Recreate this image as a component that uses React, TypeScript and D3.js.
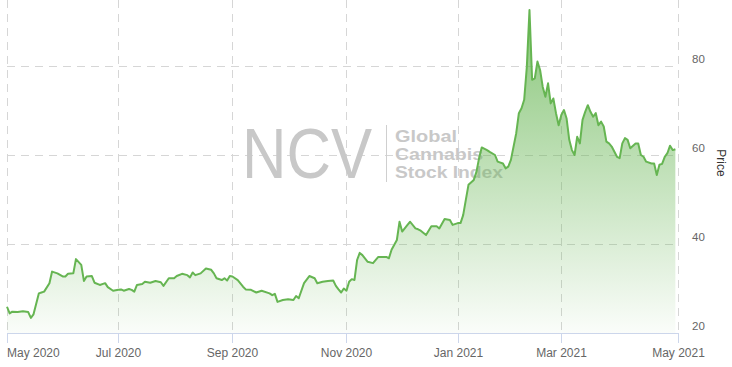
import React from "react";
import * as d3 from "d3";

// Daily closing prices (trading days only)
const dates = [
  "2020-05-01","2020-05-04","2020-05-05","2020-05-07","2020-05-11","2020-05-13","2020-05-14","2020-05-15","2020-05-19","2020-05-20",
  "2020-05-21","2020-05-26","2020-05-27","2020-05-29","2020-06-02","2020-06-03","2020-06-04","2020-06-08","2020-06-09","2020-06-11",
  "2020-06-12","2020-06-15","2020-06-17","2020-06-18","2020-06-22","2020-06-24","2020-06-25","2020-06-29","2020-07-01","2020-07-02",
  "2020-07-06","2020-07-08","2020-07-09","2020-07-10","2020-07-13","2020-07-15","2020-07-16","2020-07-20","2020-07-22","2020-07-24",
  "2020-07-27","2020-07-29","2020-07-31","2020-08-03","2020-08-05","2020-08-07","2020-08-10","2020-08-11","2020-08-12","2020-08-14",
  "2020-08-18","2020-08-20","2020-08-21","2020-08-24","2020-08-26","2020-08-27","2020-08-28","2020-08-31","2020-09-01","2020-09-03",
  "2020-09-08","2020-09-09","2020-09-11","2020-09-15","2020-09-17","2020-09-22","2020-09-23","2020-09-24","2020-09-25","2020-09-29",
  "2020-10-01","2020-10-05","2020-10-06","2020-10-07","2020-10-09","2020-10-13","2020-10-15","2020-10-16","2020-10-20","2020-10-22",
  "2020-10-26","2020-10-27","2020-10-28","2020-10-29","2020-10-30","2020-11-02","2020-11-03","2020-11-04","2020-11-05","2020-11-06",
  "2020-11-09","2020-11-10","2020-11-12","2020-11-16","2020-11-18","2020-11-23","2020-11-24","2020-11-25","2020-11-30","2020-12-01",
  "2020-12-02","2020-12-04","2020-12-07","2020-12-09","2020-12-10","2020-12-11","2020-12-15","2020-12-17","2020-12-21","2020-12-22",
  "2020-12-24","2020-12-29","2020-12-30","2021-01-04","2021-01-05","2021-01-06","2021-01-07","2021-01-08","2021-01-12","2021-01-13",
  "2021-01-14","2021-01-15","2021-01-19","2021-01-20","2021-01-22","2021-01-25","2021-01-27","2021-01-28","2021-01-29","2021-02-01",
  "2021-02-03","2021-02-04","2021-02-05","2021-02-08","2021-02-09","2021-02-10","2021-02-11","2021-02-12","2021-02-16","2021-02-17",
  "2021-02-18","2021-02-19","2021-02-22","2021-02-23","2021-02-24","2021-02-25","2021-02-26","2021-03-01","2021-03-02","2021-03-03",
  "2021-03-04","2021-03-05","2021-03-08","2021-03-09","2021-03-10","2021-03-11","2021-03-12","2021-03-15","2021-03-16","2021-03-17",
  "2021-03-18","2021-03-19","2021-03-22","2021-03-23","2021-03-24","2021-03-25","2021-03-26","2021-03-30","2021-03-31","2021-04-01",
  "2021-04-05","2021-04-06","2021-04-07","2021-04-09","2021-04-12","2021-04-13","2021-04-14","2021-04-15","2021-04-19","2021-04-20",
  "2021-04-21","2021-04-22","2021-04-23","2021-04-26","2021-04-27","2021-04-28","2021-04-29","2021-04-30",
];

const prices = [
  25.9,24.4,24.8,24.7,24.9,24.7,23.4,24.2,28.9,29.1,
  29.3,31.2,33.8,33.4,32.7,32.7,33.3,33.4,36.6,35.3,
  31.7,32.7,32.8,31.3,30.8,31.2,30.3,29.5,29.7,29.8,
  29.5,29.9,29.7,29.3,30.8,31.0,31.5,31.3,31.7,31.4,
  30.6,32.3,32.3,32.8,33.3,33.0,32.5,33.6,33.0,33.4,
  34.5,34.2,33.4,32.3,31.9,32.3,31.8,32.8,32.7,31.9,
  30.4,29.8,29.7,29.1,29.5,28.9,28.5,28.8,27.0,27.4,
  27.6,27.4,28.3,27.8,31.2,32.8,32.3,31.2,31.5,31.7,
  31.8,30.6,29.8,29.1,30.0,29.5,31.5,32.1,31.9,36.4,
  38.0,37.5,36.0,35.7,37.1,37.1,36.8,38.7,40.9,45.0,
  42.8,44.3,45.0,43.5,43.3,43.0,42.0,44.0,44.0,43.5,
  45.6,45.4,44.3,44.7,44.7,46.5,49.9,53.3,54.4,56.2,
  59.3,61.7,61.1,60.7,60.0,58.5,58.1,57.0,57.4,58.9,
  64.9,69.4,70.5,72.4,79.8,92.6,76.9,77.2,81.0,79.1,
  75.3,73.1,76.1,71.6,72.7,69.4,66.7,69.0,70.1,68.2,
  63.4,61.1,60.0,64.1,62.6,67.9,69.7,71.2,69.7,68.6,
  69.4,66.7,67.5,66.4,63.0,62.6,61.9,59.6,59.3,62.6,
  63.8,63.4,61.5,62.6,62.6,60.0,59.6,58.5,58.1,58.1,
  55.5,57.8,58.0,59.6,60.4,62.1,61.1,61.3,
];

// Market holidays (no trading) — the x axis is ordinal over trading days
const holidays = ["2020-05-25", "2020-07-03", "2020-09-07", "2020-11-26", "2020-12-25", "2021-01-01", "2021-02-15", "2021-04-02"];
const calendarStart = "2020-05-01";
const calendarEnd = "2021-05-03";

const xTickDates = ["2020-05-01", "2020-07-01", "2020-09-01", "2020-11-01", "2021-01-01", "2021-03-01", "2021-05-01"];
const xTickLabels = ["May 2020", "Jul 2020", "Sep 2020", "Nov 2020", "Jan 2021", "Mar 2021", "May 2021"];
const yTicks = [20, 40, 60, 80];
const yAxisTitle = "Price";
const watermarkBig = "NCV";
const watermarkLines = ["Global", "Cannabis", "Stock Index"];
const watermarkLineWidths = [62, 88, 108];

const W = 732;
const H = 367;
const plotLeft = 7;
const plotRight = 678;
const plotTop = 0;
const plotBottom = 333;

export default function App() {
  const parse = d3.utcParse("%Y-%m-%d");
  const fmt = d3.utcFormat("%Y-%m-%d");
  const holidaySet = new Set(holidays);

  // trading-day calendar (weekdays that are not holidays)
  const tradingDays: Date[] = d3
    .utcDays(parse(calendarStart) as Date, d3.utcDay.offset(parse(calendarEnd) as Date, 1))
    .filter((d) => d.getUTCDay() !== 0 && d.getUTCDay() !== 6 && !holidaySet.has(fmt(d)));
  const dayNums = tradingDays.map((t) => +t);
  const indexOf = (d: Date) => d3.bisectLeft(dayNums, +d);

  const data = dates.map((d, i) => ({ idx: indexOf(parse(d) as Date), value: prices[i] }));

  const x = d3
    .scaleLinear()
    .domain([0, tradingDays.length - 1])
    .range([plotLeft, plotRight]);
  const y = d3.scaleLinear().domain([20, 80]).range([plotBottom, 66]);

  const line = d3
    .line<{ idx: number; value: number }>()
    .x((d) => x(d.idx))
    .y((d) => y(d.value));
  const area = d3
    .area<{ idx: number; value: number }>()
    .x((d) => x(d.idx))
    .y0(plotBottom)
    .y1((d) => y(d.value));

  const font = "'Liberation Sans', Arial, Helvetica, sans-serif";
  const green = "#66b552";
  const tickX = (d: string) => Math.round(x(Math.min(indexOf(parse(d) as Date), tradingDays.length - 1))) + 0.5;

  return (
    <svg
      width={W}
      height={H}
      style={{ position: "absolute", left: 0, top: 0, background: "#fff" }}
      fontFamily={font}
    >
      <defs>
        <linearGradient id="areaGrad" gradientUnits="userSpaceOnUse" x1="0" y1={plotTop} x2="0" y2={plotBottom}>
          <stop offset="0" stopColor={green} stopOpacity={0.8} />
          <stop offset="1" stopColor={green} stopOpacity={0.03} />
        </linearGradient>
      </defs>
      <rect x={0} y={0} width={W} height={H} fill="#fff" />

      {/* horizontal grid */}
      {yTicks
        .filter((t) => t !== 20)
        .map((t) => (
          <line
            key={"hg" + t}
            x1={plotLeft}
            x2={plotRight}
            y1={y(t) + 0.5}
            y2={y(t) + 0.5}
            stroke="#d6d6d6"
            strokeWidth={1}
            strokeDasharray="8,6"
          />
        ))}
      {/* vertical grid */}
      {xTickDates.map((d) => {
        const px = tickX(d);
        return (
          <line
            key={"vg" + d}
            x1={px}
            x2={px}
            y1={plotTop}
            y2={plotBottom}
            stroke="#d6d6d6"
            strokeWidth={1}
            strokeDasharray="8,6"
          />
        );
      })}

      {/* watermark */}
      <g fill="#c8c8c8">
        <text x={242} y={178} fontSize={70} textLength={130} lengthAdjust="spacingAndGlyphs">
          {watermarkBig}
        </text>
        <line x1={386.5} x2={386.5} y1={125} y2={182} stroke="#cfcfcf" strokeWidth={1} />
        {watermarkLines.map((t, i) => (
          <text
            key={t}
            x={395}
            y={142 + i * 18}
            fontSize={16}
            fontWeight="bold"
            textLength={watermarkLineWidths[i]}
            lengthAdjust="spacingAndGlyphs"
          >
            {t}
          </text>
        ))}
      </g>

      {/* area and line */}
      <path d={area(data) || ""} fill="url(#areaGrad)" />
      <path d={line(data) || ""} fill="none" stroke={green} strokeWidth={2} strokeLinejoin="round" />

      {/* x axis */}
      <line x1={plotLeft} x2={plotRight + 1} y1={plotBottom + 0.5} y2={plotBottom + 0.5} stroke="#ccd6eb" strokeWidth={1} />
      {xTickDates.map((d, i) => {
        const px = tickX(d);
        const anchor = i === 0 ? "start" : "middle";
        const lx = i === 0 ? plotLeft : px;
        return (
          <g key={"xt" + d}>
            <line x1={px} x2={px} y1={plotBottom} y2={plotBottom + 10} stroke="#ccd6eb" strokeWidth={1} />
            <text x={lx} y={357} fontSize={12} fill="#666" textAnchor={anchor}>
              {xTickLabels[i]}
            </text>
          </g>
        );
      })}

      {/* y axis labels (right) */}
      {yTicks.map((t) => (
        <text key={"yl" + t} x={692} y={y(t) - 3} fontSize={11.5} fill="#666">
          {t}
        </text>
      ))}
      <text transform={`translate(717, 163) rotate(90)`} textAnchor="middle" fontSize={12} fill="#333">
        {yAxisTitle}
      </text>
    </svg>
  );
}
